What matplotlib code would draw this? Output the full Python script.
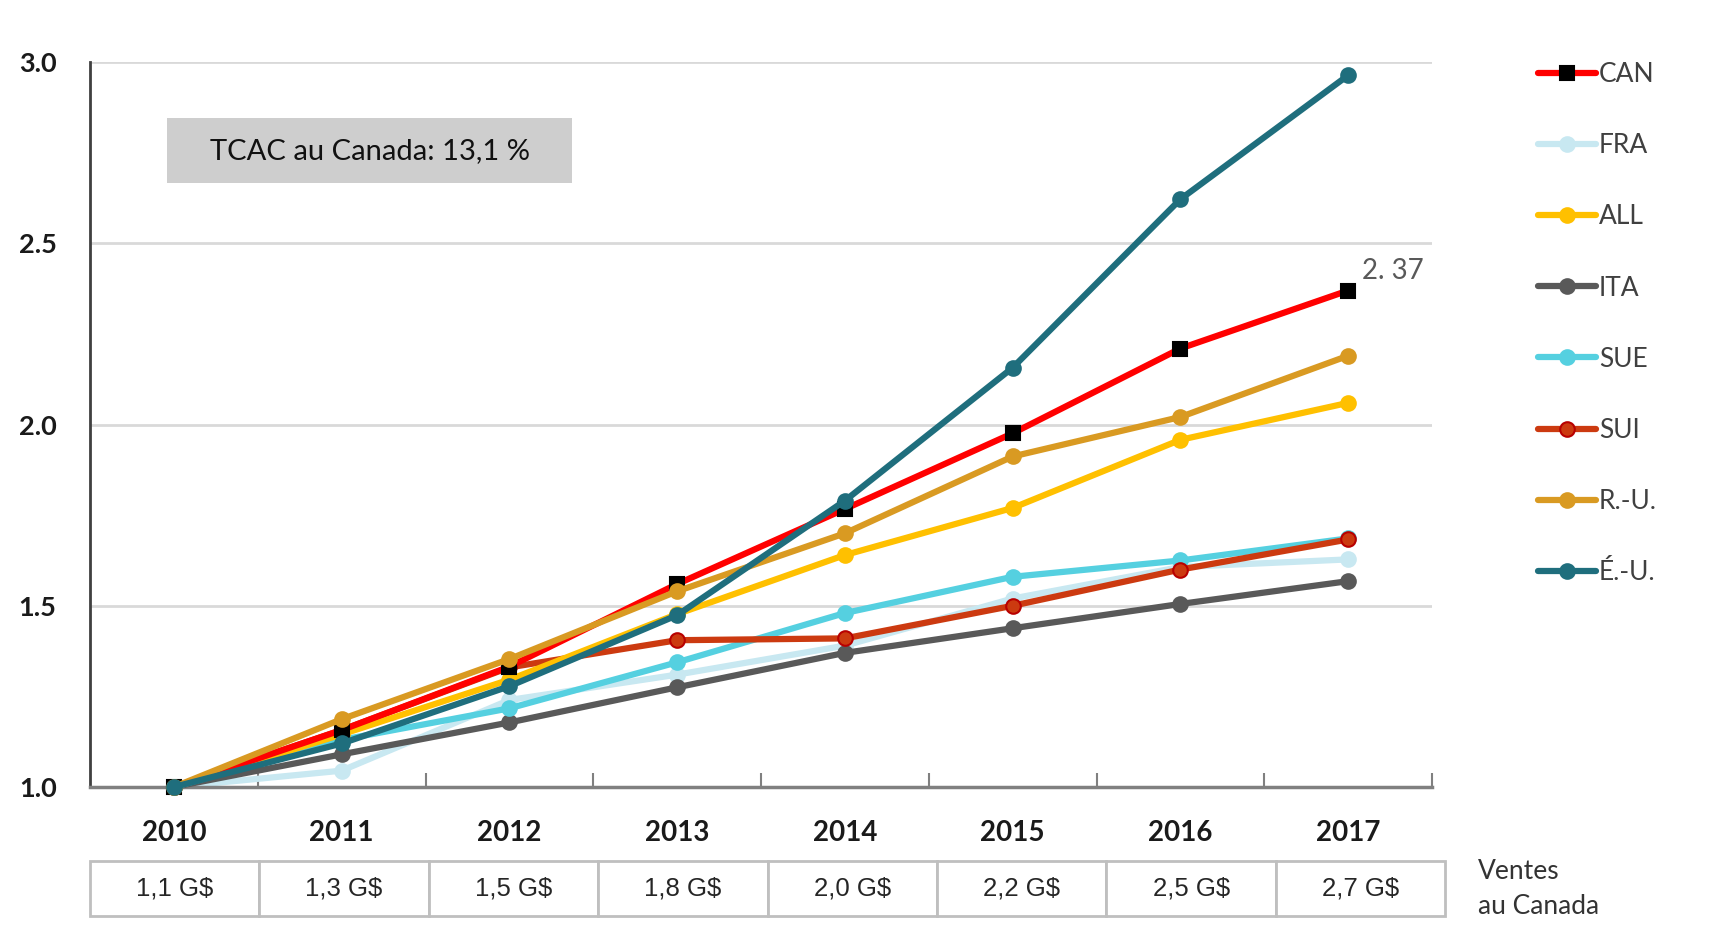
import matplotlib
matplotlib.use("Agg")
import matplotlib.pyplot as plt
from matplotlib.patches import Rectangle

years = [2010, 2011, 2012, 2013, 2014, 2015, 2016, 2017]
sales = ["1,1 G$", "1,3 G$", "1,5 G$", "1,8 G$", "2,0 G$", "2,2 G$", "2,5 G$", "2,7 G$"]

can = [1.0, 1.157, 1.332, 1.560, 1.767, 1.976, 2.210, 2.370]
fra = [1.0, 1.045, 1.240, 1.310, 1.390, 1.520, 1.607, 1.628]
all_ = [1.0, 1.145, 1.296, 1.477, 1.640, 1.770, 1.958, 2.060]
ita = [1.0, 1.090, 1.178, 1.275, 1.370, 1.438, 1.505, 1.568]
sue = [1.0, 1.130, 1.217, 1.344, 1.480, 1.580, 1.625, 1.686]
sui = [1.0, 1.157, 1.330, 1.405, 1.410, 1.500, 1.600, 1.683]
ru = [1.0, 1.187, 1.353, 1.540, 1.700, 1.912, 2.021, 2.190]
eu = [1.0, 1.120, 1.278, 1.474, 1.790, 2.157, 2.622, 2.964]

plt.rcParams['font.family'] = ['Lato', 'DejaVu Sans']
arial = ['Liberation Sans', 'DejaVu Sans']

fig = plt.figure(figsize=(17.14, 9.40), dpi=100)
ax = fig.add_axes([0.0525, 0.1628, 0.783, 0.771])

# (label, values, color, marker, face, edge, zorder)
series = [
    ("CAN", can, "#ff0000", "s", "#000000", "#000000", 7),
    ("FRA", fra, "#c8e8f1", "o", "#c8e8f1", "#c8e8f1", 2),
    ("ALL", all_, "#ffc000", "o", "#ffc000", "#ffc000", 6),
    ("ITA", ita, "#595959", "o", "#595959", "#595959", 3),
    ("SUE", sue, "#55d0e0", "o", "#55d0e0", "#55d0e0", 4),
    ("SUI", sui, "#cc3a10", "o", "#cc3a10", "#b80000", 5),
    ("R.-U.", ru, "#d99a22", "o", "#d99a22", "#d99a22", 8),
    ("É.-U.", eu, "#1f6e7d", "o", "#1f6e7d", "#1f6e7d", 9),
]

for label, vals, col, mk, fc, ec, z in series:
    ax.plot(years, vals, color=col, lw=4.5, marker=mk, markersize=10.5 if mk == "o" else 10,
            markerfacecolor=fc, markeredgecolor=ec, markeredgewidth=1.5,
            label=label, zorder=z, clip_on=False, solid_capstyle='round')

ax.set_xlim(2009.5, 2017.5)
ax.set_ylim(1.0, 3.0)
ax.set_yticks([1.0, 1.5, 2.0, 2.5, 3.0])
ax.set_yticklabels(["1.0", "1.5", "2.0", "2.5", "3.0"], fontweight='bold', fontsize=19.5)
ax.tick_params(axis='y', length=0, pad=24, colors='#1a1a1a')
ax.yaxis.grid(True, color='#d9d9d9', lw=2)
ax.set_axisbelow(True)

ax.set_xticks(years)
ax.set_xticklabels([str(y) for y in years], fontweight='bold', fontsize=20, color='#1a1a1a')
ax.tick_params(axis='x', which='major', length=0, pad=24)
ax.set_xticks([y + 0.5 for y in years], minor=True)
ax.tick_params(axis='x', which='minor', direction='in', length=10, width=1.5, color='#808080')

for s in ['top', 'right']:
    ax.spines[s].set_visible(False)
ax.spines['left'].set_color('#404040')
ax.spines['left'].set_linewidth(2)
ax.spines['bottom'].set_color('#808080')
ax.spines['bottom'].set_linewidth(2.5)

# CAGR box
ax.add_patch(Rectangle((0.0574, 0.833), 0.302, 0.0897, transform=ax.transAxes,
                       facecolor='#cecece', edgecolor='none', zorder=1))
ax.text(0.0574 + 0.151, 0.833 + 0.0448, "TCAC au Canada: 13,1 %", transform=ax.transAxes,
        ha='center', va='center', fontsize=21, color='#111111', zorder=2)

# last value label
ax.annotate("2. 37", xy=(years[-1], can[-1]), xytext=(10, 14), textcoords='offset points',
            ha='left', va='center', fontsize=20, color='#595959')

# sales table
tbl = ax.table(cellText=[sales], cellLoc='center', bbox=[0, -0.178, 1.0098, 0.0754])
tbl.auto_set_font_size(False)
for cell in tbl.get_celld().values():
    cell.set_edgecolor('#bfbfbf')
    cell.set_linewidth(2)
    cell.get_text().set_fontsize(18.5)
    cell.get_text().set_family(arial)
    cell.get_text().set_color('#262626')

fig.text(1478 / 1714, 1 - 889 / 940, "Ventes\nau Canada", ha='left', va='center',
         fontsize=19, color='#333333', linespacing=1.5)

fig.legend(loc='upper left', bbox_to_anchor=(1538 / 1714, 1 - 62 / 940), frameon=False,
           fontsize=19, labelcolor='#404040', handlelength=2.2, handletextpad=0.1,
           labelspacing=1.75, borderpad=0, borderaxespad=0)

fig.savefig("out.png", dpi=100)
